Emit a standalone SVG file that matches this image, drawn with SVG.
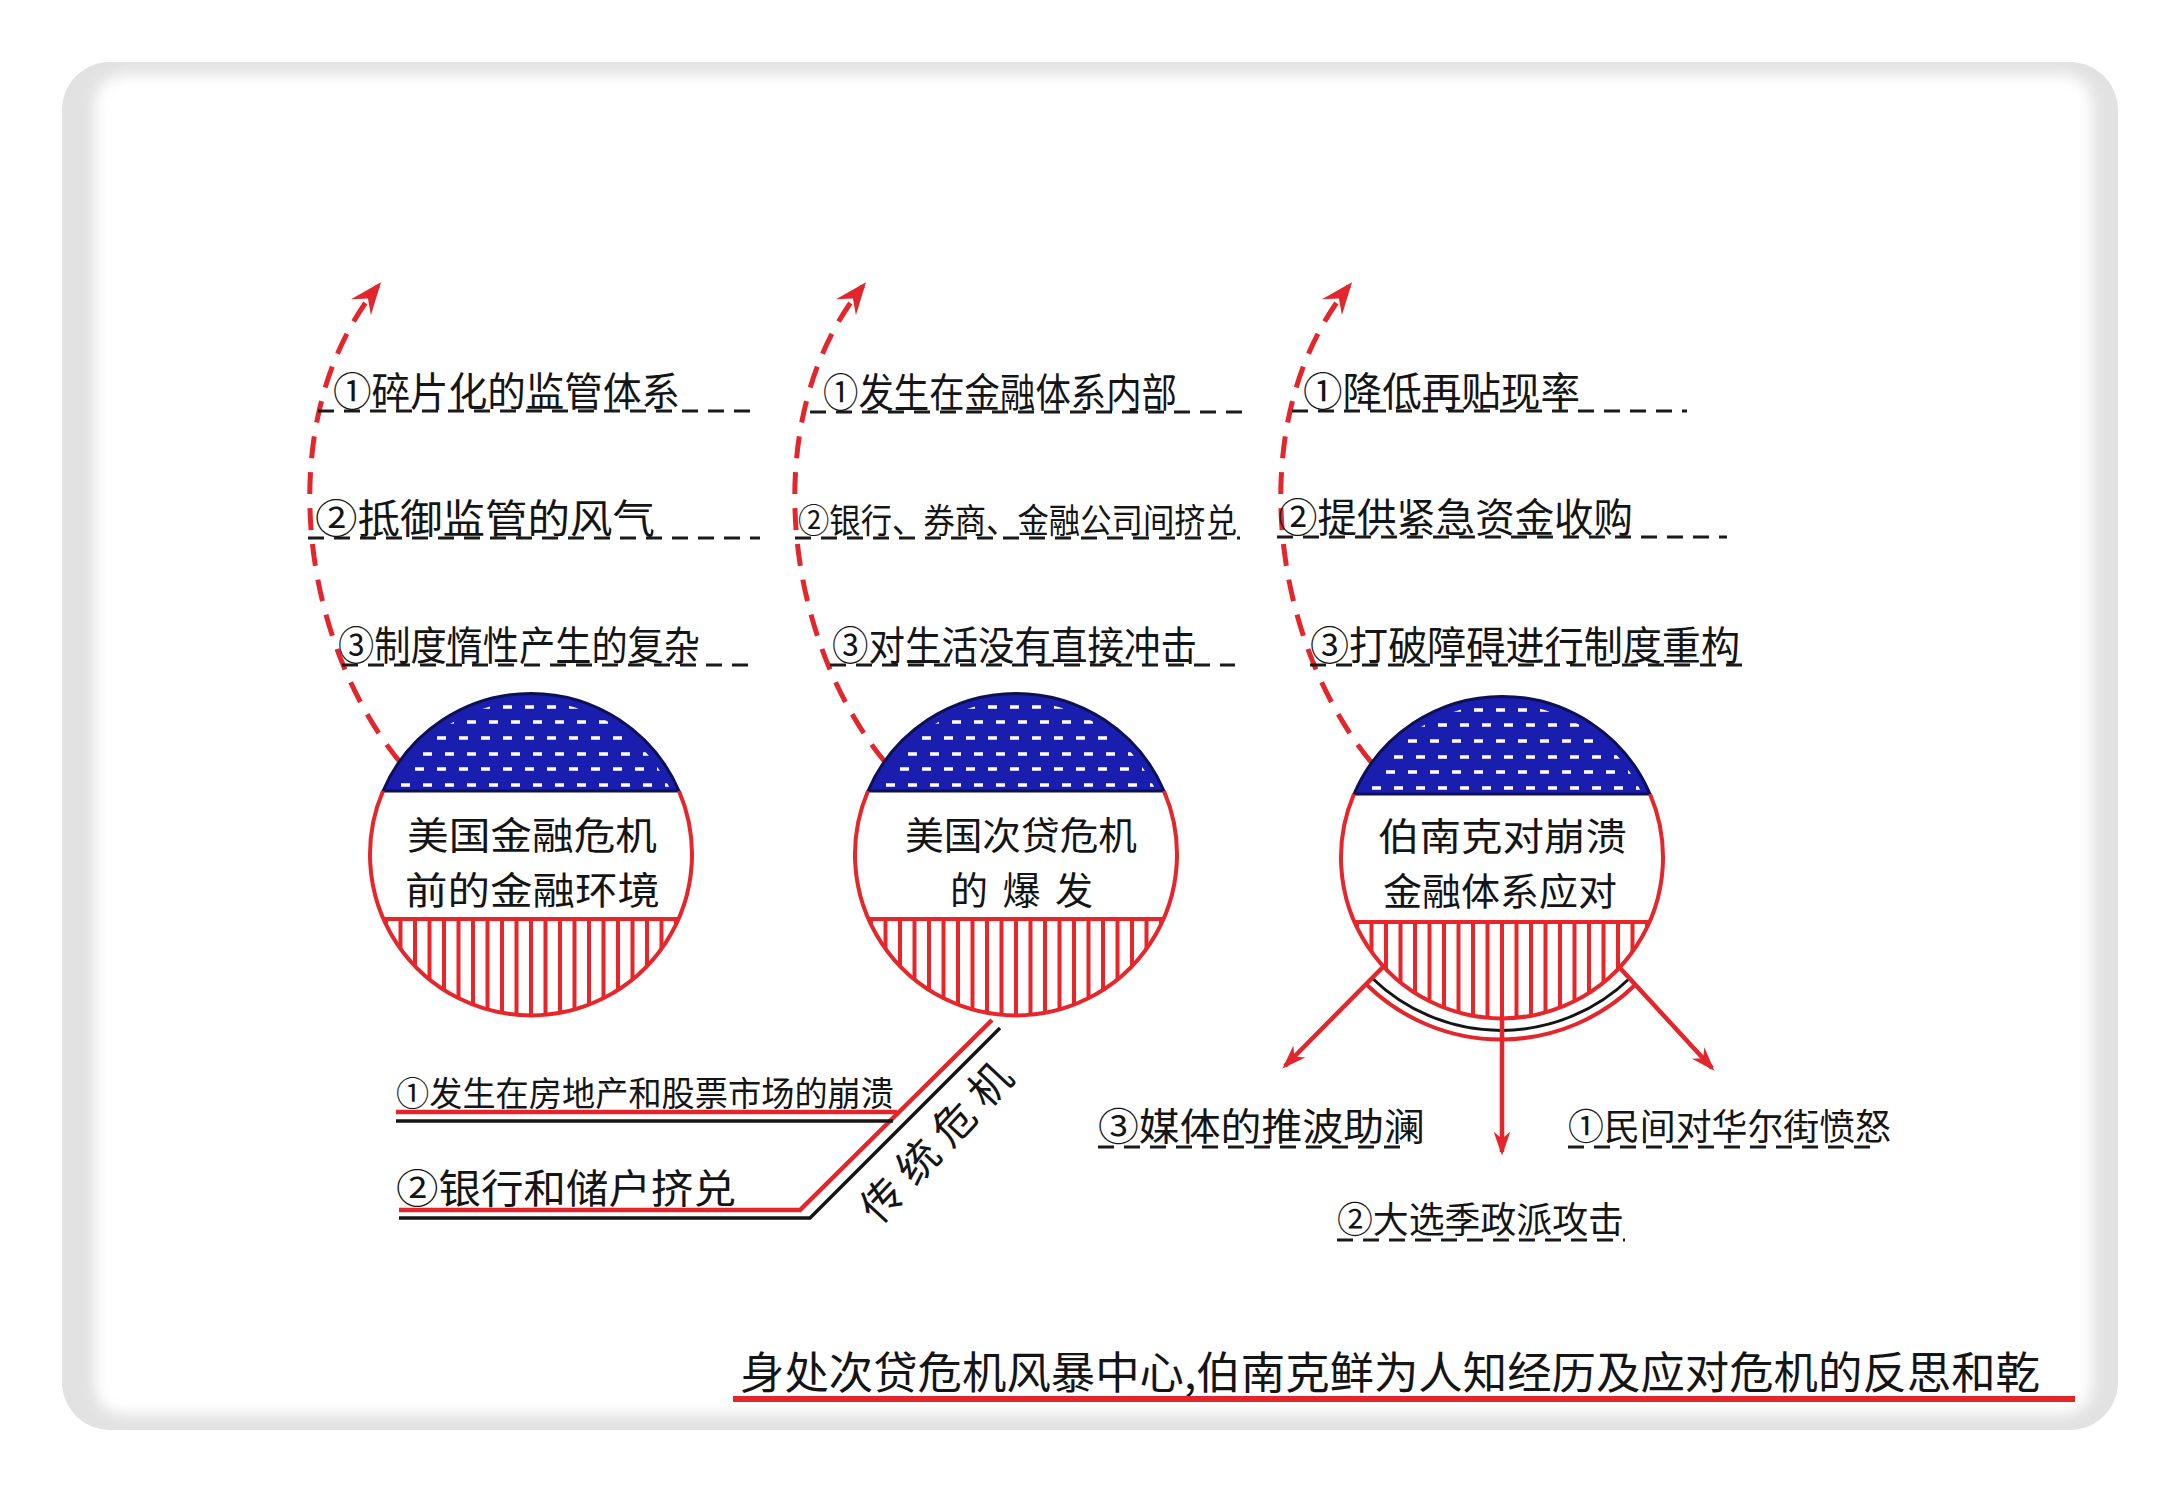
<svg xmlns="http://www.w3.org/2000/svg" xmlns:xlink="http://www.w3.org/1999/xlink" width="2180" height="1494" viewBox="0 0 2180 1494">
<style>
.t{font-family:"Noto Sans CJK SC","Noto Sans",sans-serif;fill:#151515;}
.dl{stroke:#1a1a1a;stroke-width:3;stroke-dasharray:16 10;fill:none;}
.ra{stroke:#e3262b;stroke-width:5;stroke-dasharray:22 14;fill:none;}
.rl{stroke:#e3262b;stroke-width:4.5;fill:none;}
.bl{stroke:#151515;stroke-width:3.5;fill:none;}
</style>
<defs>
<filter id="soft" x="-5%" y="-5%" width="110%" height="110%"><feGaussianBlur stdDeviation="7"/></filter>
<marker id="ah" viewBox="0 0 20 20" refX="17" refY="10" markerWidth="24" markerHeight="24" markerUnits="userSpaceOnUse" orient="auto">
<path d="M0,3 L20,10 L0,17 L6,10 Z" fill="#e3262b"/>
</marker>
<marker id="ah2" viewBox="0 0 20 20" refX="17" refY="10" markerWidth="32" markerHeight="32" markerUnits="userSpaceOnUse" orient="auto">
<path d="M0,2 L20,10 L0,18 L7,10 Z" fill="#e3262b"/>
</marker>
<clipPath id="capclip"><path d="M-138.7,-67 A154,154 0 0 1 138.7,-67 Z"/></clipPath>
<clipPath id="lowclip"><path d="M-148,64 L148,64 A161,161 0 0 1 -148,64 Z"/></clipPath>
<g id="badge">
<circle r="161" fill="#fff"/>
<path d="M-148,-64 A161,161 0 0 1 148,-64 Z" fill="#1a1eae" stroke="#0d1055" stroke-width="3"/>
<g clip-path="url(#capclip)" stroke="#fff" stroke-width="3.5" stroke-dasharray="9 13">
<line x1="-160" y1="-148" x2="160" y2="-148"/>
<line x1="-152" y1="-133" x2="160" y2="-133"/>
<line x1="-160" y1="-117" x2="160" y2="-117"/>
<line x1="-152" y1="-101" x2="160" y2="-101"/>
<line x1="-160" y1="-86" x2="160" y2="-86"/>
<line x1="-152" y1="-70" x2="160" y2="-70"/>
</g>
<g clip-path="url(#lowclip)" stroke="#e8262a" stroke-width="4">
<path d="M-145,60V170M-130.5,60V170M-116,60V170M-101.5,60V170M-87,60V170M-72.5,60V170M-58,60V170M-43.5,60V170M-29,60V170M-14.5,60V170M0,60V170M14.5,60V170M29,60V170M43.5,60V170M58,60V170M72.5,60V170M87,60V170M101.5,60V170M116,60V170M130.5,60V170M145,60V170"/>
</g>
<path d="M-148,64 H148" stroke="#e8262a" stroke-width="4"/>
<path d="M-148,-64 A161,161 0 1 0 148,-64" fill="none" stroke="#e5262b" stroke-width="4"/>
</g>
</defs>

<rect width="2180" height="1494" fill="#fff"/>
<g id="frame">
<rect x="62" y="62" width="2056" height="1368" rx="48" fill="#e2e2e2"/>
<rect x="95" y="75" width="1997" height="1339" rx="28" fill="#fff" filter="url(#soft)"/>
</g>

<g id="connectors">
<path class="ra" d="M400,762 C300,640 270,420 378,286" marker-end="url(#ah2)"/>
<path class="ra" d="M885,762 C785,640 755,420 863,286" marker-end="url(#ah2)"/>
<path class="ra" d="M1371,762 C1271,640 1241,420 1349,286" marker-end="url(#ah2)"/>
<path class="rl" d="M396,1112 H897"/>
<path class="rl" d="M399,1210 H800 L992,1020"/>
<path class="bl" d="M396,1121 H893"/>
<path class="bl" d="M399,1218 H810 L1000,1028"/>
<path d="M1372,978 A185,185 0 0 0 1630,978" fill="none" stroke="#151515" stroke-width="3"/>
<path d="M1367,985 A192,192 0 0 0 1635,985" fill="none" stroke="#e3262b" stroke-width="4"/>
<path class="rl" d="M1384,966 L1285,1066" marker-end="url(#ah)"/>
<path class="rl" d="M1620,968 L1712,1068" marker-end="url(#ah)"/>
<path class="rl" d="M1502,1019 V1152" marker-end="url(#ah)"/>
</g>

<g id="node-env">
<use xlink:href="#badge" href="#badge" x="531" y="855"/>
<text class="t" x="407" y="849" font-size="38" textLength="250" lengthAdjust="spacingAndGlyphs">美国金融危机</text>
<text class="t" x="405" y="904" font-size="38" textLength="255" lengthAdjust="spacingAndGlyphs">前的金融环境</text>
</g>
<g id="node-env-items">
<path class="dl" d="M318,411 H760"/>
<text class="t" x="333" y="406" font-size="40" textLength="347" lengthAdjust="spacingAndGlyphs">①碎片化的监管体系</text>
<path class="dl" d="M308,538 H760"/>
<text class="t" x="315" y="533" font-size="40" textLength="340" lengthAdjust="spacingAndGlyphs">②抵御监管的风气</text>
<path class="dl" d="M342,665 H753"/>
<text class="t" x="338" y="660" font-size="40" textLength="362" lengthAdjust="spacingAndGlyphs">③制度惰性产生的复杂</text>
</g>

<g id="node-outbreak">
<use xlink:href="#badge" href="#badge" x="1016" y="855"/>
<text class="t" x="905" y="849" font-size="38" textLength="232" lengthAdjust="spacingAndGlyphs">美国次贷危机</text>
<text class="t" x="950" y="904" font-size="38" textLength="143" lengthAdjust="spacing">的爆发</text>
</g>
<g id="node-outbreak-items">
<path class="dl" d="M810,412 H1247"/>
<text class="t" x="823" y="407" font-size="40" textLength="354" lengthAdjust="spacingAndGlyphs">①发生在金融体系内部</text>
<path class="dl" d="M795,538 H1240"/>
<text class="t" x="798" y="533" font-size="34" textLength="439" lengthAdjust="spacingAndGlyphs">②银行、券商、金融公司间挤兑</text>
<path class="dl" d="M830,665 H1235"/>
<text class="t" x="832" y="660" font-size="40" textLength="365" lengthAdjust="spacingAndGlyphs">③对生活没有直接冲击</text>
</g>
<g id="node-traditional">
<text class="t" x="396" y="1106" font-size="34" textLength="498" lengthAdjust="spacingAndGlyphs">①发生在房地产和股票市场的崩溃</text>
<text class="t" x="396" y="1203" font-size="40" textLength="340" lengthAdjust="spacingAndGlyphs">②银行和储户挤兑</text>
<text class="t" x="937" y="1157" font-size="42" text-anchor="middle" textLength="200" lengthAdjust="spacing" transform="rotate(-47 937 1143)">传统危机</text>
</g>

<g id="node-response">
<use xlink:href="#badge" href="#badge" x="1502" y="858"/>
<text class="t" x="1378" y="850" font-size="38" textLength="249" lengthAdjust="spacingAndGlyphs">伯南克对崩溃</text>
<text class="t" x="1383" y="905" font-size="38" textLength="234" lengthAdjust="spacingAndGlyphs">金融体系应对</text>
</g>
<g id="node-response-items">
<path class="dl" d="M1292,411 H1687"/>
<text class="t" x="1303" y="406" font-size="40" textLength="277" lengthAdjust="spacingAndGlyphs">①降低再贴现率</text>
<path class="dl" d="M1277,537 H1727"/>
<text class="t" x="1278" y="532" font-size="40" textLength="355" lengthAdjust="spacingAndGlyphs">②提供紧急资金收购</text>
<path class="dl" d="M1310,665 H1743"/>
<text class="t" x="1310" y="660" font-size="40" textLength="430" lengthAdjust="spacingAndGlyphs">③打破障碍进行制度重构</text>
</g>
<g id="node-pressure">
<path class="dl" d="M1098,1147 H1400"/>
<text class="t" x="1098" y="1140" font-size="38" textLength="327" lengthAdjust="spacingAndGlyphs">③媒体的推波助澜</text>
<path class="dl" d="M1568,1147 H1880"/>
<text class="t" x="1568" y="1140" font-size="36" textLength="323" lengthAdjust="spacingAndGlyphs">①民间对华尔街愤怒</text>
<path class="dl" d="M1337,1240 H1625"/>
<text class="t" x="1337" y="1233" font-size="36" textLength="287" lengthAdjust="spacingAndGlyphs">②大选季政派攻击</text>
</g>

<g id="title">
<text class="t" x="740" y="1389" font-size="44" textLength="1300" lengthAdjust="spacingAndGlyphs">身处次贷危机风暴中心,伯南克鲜为人知经历及应对危机的反思和乾</text>
<path d="M733,1399 H2075" stroke="#e3262b" stroke-width="6"/>
</g>
</svg>
